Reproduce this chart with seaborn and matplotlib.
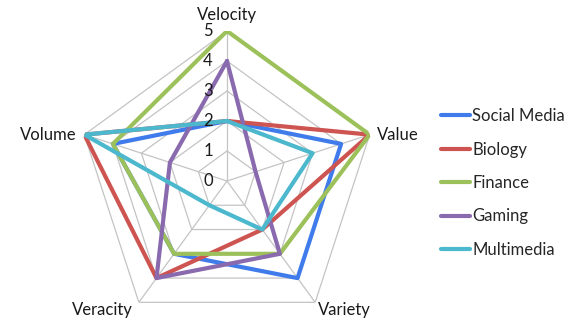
import numpy as np
import pandas as pd
import matplotlib
matplotlib.use("Agg")
import matplotlib.pyplot as plt
import seaborn as sns

# Radar axes, clockwise from the top
axes_names = ["Velocity", "Value", "Variety", "Veracity", "Volume"]
series_names = ["Social Media", "Biology", "Finance", "Gaming", "Multimedia"]

social_media = [2, 4, 4, 3, 4]
biology = [2, 5, 2, 4, 5]
finance = [5, 5, 3, 3, 4]
gaming = [4, 1, 3, 4, 2]
multimedia = [2, 3, 2, 1, 5]

scale_ticks = [0, 1, 2, 3, 4, 5]

colors = ["#3F7BEA", "#CD5450", "#9DC15A", "#8A6AAE", "#4CB8CD"]

sns.set_theme(style="white")
plt.rcParams["font.family"] = ["Lato", "DejaVu Sans"]

n = len(axes_names)
theta = np.linspace(0, 2 * np.pi, n, endpoint=False)
theta_closed = np.append(theta, 2 * np.pi)

rows = []
for name, vals in zip(series_names,
                      [social_media, biology, finance, gaming, multimedia]):
    closed = list(vals) + [vals[0]]
    for t, v in zip(theta_closed, closed):
        rows.append({"theta": t, "value": v, "series": name})
df = pd.DataFrame(rows)

W, H = 572, 322
fig = plt.figure(figsize=(W / 100, H / 100), dpi=100)
cx, cy, R = 227, 181, 150
ax = fig.add_axes([(cx - R) / W, (H - cy - R) / H, 2 * R / W, 2 * R / H],
                  projection="polar")
ax.set_theta_offset(np.pi / 2)
ax.set_theta_direction(-1)
ax.set_ylim(0, 5)
ax.grid(False)
ax.set_xticks([])
ax.set_yticks([])
ax.spines["polar"].set_visible(False)
ax.patch.set_alpha(0)

# Pentagon gridlines and spokes
grid_color = "#C4C4C4"
for r in scale_ticks[1:]:
    ax.plot(theta_closed, [r] * (n + 1), color=grid_color, lw=0.9, zorder=1)
for t in theta:
    ax.plot([t, t], [0, 5], color=grid_color, lw=0.9, zorder=1)

sns.lineplot(data=df, x="theta", y="value", hue="series", sort=False,
             estimator=None, palette=colors, hue_order=series_names,
             linewidth=3.0, ax=ax, zorder=3)
ax.set_xlabel("")
ax.set_ylabel("")

FS = 12

# Scale labels along the Velocity axis
for r in scale_ticks:
    ax.annotate(str(r), xy=(0, r), xytext=(-19, 0), textcoords="offset pixels",
                ha="center", va="center", fontsize=FS, color="#1a1a1a")

# Category labels around the outside
label_offsets = {
    "Velocity": ((0, 16), "center"),
    "Value": ((7, 0), "left"),
    "Variety": ((3, -8), "left"),
    "Veracity": ((-6, -8), "right"),
    "Volume": ((-8, 0), "right"),
}
for t, name in zip(theta, axes_names):
    off, ha = label_offsets[name]
    ax.annotate(name, xy=(t, 5), xytext=off, textcoords="offset pixels",
                ha=ha, va="center", fontsize=FS, color="#1a1a1a",
                annotation_clip=False)

sns.move_legend(ax, "upper left", bbox_to_anchor=(441 / W, (H - 108) / H),
                bbox_transform=fig.transFigure, frameon=False, title=None,
                fontsize=FS, handlelength=1.75, handletextpad=0.12,
                labelspacing=1.05, borderpad=0, borderaxespad=0)

fig.savefig("out.png", dpi=100)
